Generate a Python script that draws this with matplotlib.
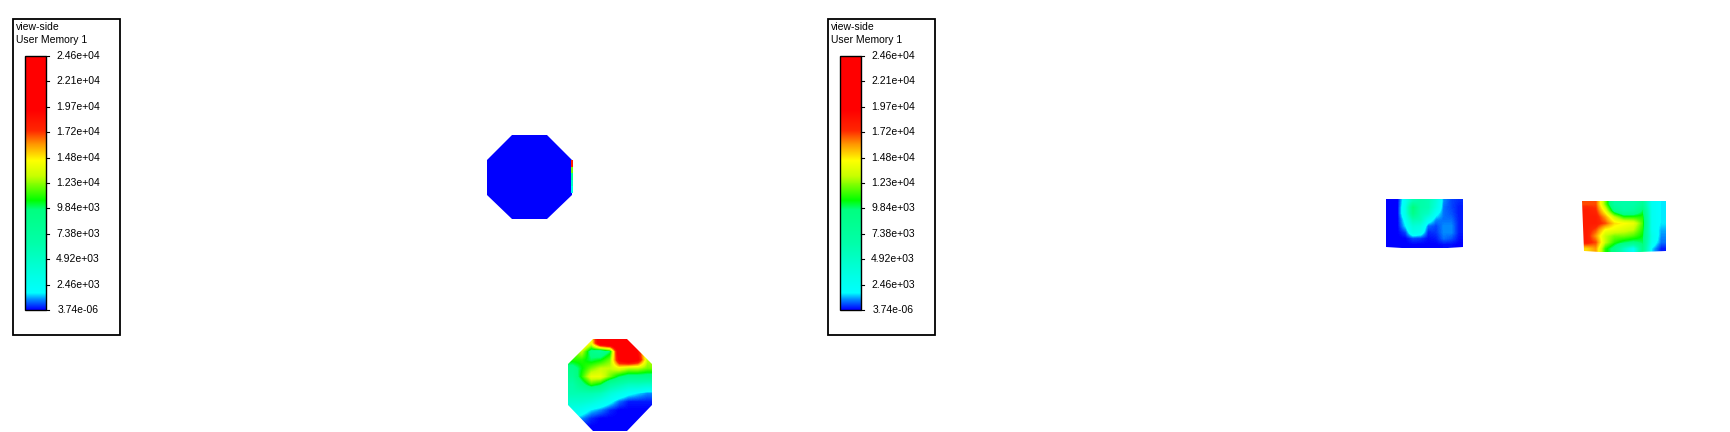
#!/usr/bin/env python3
from matplotlib import pyplot as plt
from matplotlib.colors import LinearSegmentedColormap
from matplotlib.patches import Polygon, Rectangle
import numpy as np

plt.rcParams['font.family'] = ['Liberation Sans', 'DejaVu Sans']

# legend text
legend_lines = ['view-side', 'User Memory 1']
tick_labels = ['2.46e+04', '2.21e+04', '1.97e+04', '1.72e+04', '1.48e+04', '1.23e+04',
               '9.84e+03', '7.38e+03', '4.92e+03', '2.46e+03', '3.74e-06']
vmax = 24.6  # in units of 1e3

# field values in units of 1e3 (top row first)
octagon_low = [[0, 0], [0, 0]]
edge_strip = [[18], [12], [8], [5], [3]]
octagon_high = [
    [17, 17, 14, 22, 23, 23, 23, 18, 10],
    [12, 13, 9, 8, 10, 22, 22, 19, 12],
    [11, 11, 10, 10.5, 12, 20, 22, 20, 13],
    [9, 10.5, 12, 13, 13, 14, 13, 13, 12],
    [8, 11, 14, 14, 12, 10, 9, 9, 9],
    [6.5, 9, 11, 10, 7, 6, 5, 5, 4.5],
    [6, 6, 6, 5.5, 4, 3, 2, 1.5, 1],
    [4.5, 4.5, 4, 3, 2, 0.8, 0.2, 0.2, 0.2],
    [3, 2.5, 1.5, 1, 0.3, 0, 0, 0, 0],
    [1.5, 1, 0.3, 0, 0, 0, 0, 0, 0],
    [0.5, 0.2, 0, 0, 0, 0, 0, 0, 0],
]
side_left = [
    [0, 0, 2.5, 6, 6.5, 6, 4, 1, 0.5, 0.3],
    [0, 0, 3, 10, 6.5, 6, 3.5, 0.8, 0.5, 0.2],
    [0, 0, 3, 9, 6, 5, 2, 0.8, 0.6, 0.2],
    [0, 0, 2, 6, 5.5, 2.5, 1, 0.8, 0.8, 0.2],
    [0, 0, 1.5, 4, 3.5, 0.8, 0.5, 1, 1, 0.2],
    [0, 0, 0.5, 3, 2.5, 0.3, 0.4, 1, 1, 0.2],
    [0, 0, 0, 0.5, 0.4, 0.1, 0.2, 0.8, 0.6, 0.1],
    [0, 0, 0, 0, 0, 0, 0, 0.1, 0.1, 0],
]
side_right = [
    [17, 17, 12, 7, 6.5, 6.5, 8, 2.5, 1.5],
    [18, 17.5, 14, 9, 7, 7.5, 10, 2.5, 1.5],
    [18, 18, 16, 13, 11, 11, 11, 2.5, 1.5],
    [18, 18, 17, 15, 14.5, 14, 11.5, 2.5, 1.5],
    [18, 17, 14.5, 14, 13.5, 13, 11, 2.5, 1.2],
    [18, 16, 13, 12, 12, 11.5, 10.5, 3, 1],
    [18, 17, 13, 11, 10, 9.5, 10, 2.5, 0.8],
    [15, 16, 11, 9, 5, 2, 9, 1.5, 0.2],
]

# colormap sampled from the legend bar
cmap_nodes = [(0, '#0000ff'), (1.0, '#0090ff'), (1.6, '#00ffff'), (3.2, '#00ffe6'),
              (6.4, '#00ffaa'), (9.7, '#00ff80'), (10.6, '#00ff00'), (13.0, '#c8ff00'),
              (14.5, '#ffff00'), (16.1, '#ff9600'), (17.4, '#ff2800'), (19.4, '#ff0000'),
              (24.6, '#ff0000')]
fluent = LinearSegmentedColormap.from_list('fluent', [(v / vmax, c) for v, c in cmap_nodes], N=512)


def draw_field(ax, values, outline, interpolation='bilinear'):
    """画一块被多边形裁剪的云图"""
    xs = [p[0] for p in outline]
    ys = [p[1] for p in outline]
    extent = (min(xs), max(xs), max(ys), min(ys))
    im = ax.imshow(values, cmap=fluent, vmin=0, vmax=vmax, extent=extent,
                   aspect='auto', interpolation=interpolation, zorder=2)
    clip = Polygon(outline, closed=True, transform=ax.transData, fc='none', ec='none')
    ax.add_patch(clip)
    im.set_clip_path(clip)


def draw_legend(ax, x0):
    """画图例框和色标"""
    ax.add_patch(Rectangle((x0, 19), 107, 316, fc='white', ec='black', lw=1.3, zorder=3))
    ax.text(x0 + 3, 27, legend_lines[0], fontsize=7.5, va='center', ha='left', zorder=4)
    ax.text(x0 + 3, 40, legend_lines[1], fontsize=7.5, va='center', ha='left', zorder=4)

    bar_left, bar_right, bar_top, bar_bottom = x0 + 11.5, x0 + 32.5, 56, 310
    gradient = np.linspace(vmax, 0, 256).reshape(-1, 1)
    ax.imshow(gradient, cmap=fluent, vmin=0, vmax=vmax, aspect='auto',
              extent=(bar_left, bar_right, bar_bottom, bar_top), zorder=4)
    ax.add_patch(Rectangle((bar_left, bar_top), bar_right - bar_left, bar_bottom - bar_top,
                           fc='none', ec='black', lw=1, zorder=5))
    for y, label in zip(np.linspace(bar_top, bar_bottom, len(tick_labels)), tick_labels):
        ax.plot([bar_right, bar_right + 3], [y, y], color='black', lw=0.8, zorder=5)
        ax.text(x0 + 65, y, label, fontsize=7.5, va='center', ha='center', zorder=5)


fig = plt.figure(figsize=(17.3, 4.32), dpi=100)
ax = fig.add_axes([0, 0, 1, 1])

draw_legend(ax, 13)
draw_legend(ax, 828)

draw_field(ax, octagon_low, [(512, 135), (547, 135), (572, 160), (572, 195),
                             (547, 219), (512, 219), (487, 195), (487, 160)])
ax.imshow(edge_strip, cmap=fluent, vmin=0, vmax=vmax, aspect='auto',
          extent=(571, 572.5, 193, 160), zorder=3)
draw_field(ax, octagon_high, [(593, 339), (627, 339), (652, 364), (652, 405),
                              (627, 431), (593, 431), (568, 405), (568, 364)])
draw_field(ax, side_left, [(1386, 199), (1463, 199), (1463, 247), (1440, 248.5),
                           (1410, 248.5), (1386, 247)])
draw_field(ax, side_right, [(1582, 201), (1666, 201), (1666, 251), (1640, 252),
                            (1600, 252), (1584, 251)])

ax.set_xlim(0, 1730)
ax.set_ylim(432, 0)
ax.axis('off')

plt.savefig('out.png', dpi=100)
